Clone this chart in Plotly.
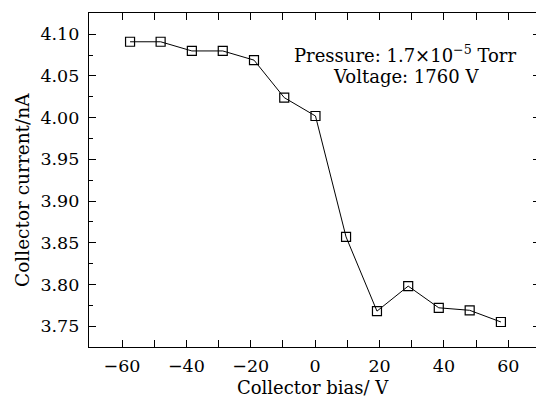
import plotly.graph_objects as go

bias_v = [-57.5, -48.0, -38.3, -28.7, -19.0, -9.6, 0.1, 9.6, 19.2, 28.9, 38.4, 48.0, 57.7]
current_na = [4.091, 4.091, 4.080, 4.080, 4.069, 4.024, 4.002, 3.857, 3.768, 3.798, 3.772, 3.769, 3.755]

x_ticks = [-60, -40, -20, 0, 20, 40, 60]
y_ticks = [3.75, 3.80, 3.85, 3.90, 3.95, 4.00, 4.05, 4.10]

FONT = "DejaVu Serif"
xr = [-70.25, 68.6]
yr = [3.725, 4.1255]

fig = go.Figure()
fig.add_trace(go.Scatter(
    x=bias_v, y=current_na, mode="lines+markers",
    line=dict(color="black", width=1),
    marker=dict(symbol="square-open", size=9, color="black", line=dict(width=1.2)),
    showlegend=False, hoverinfo="skip",
))
fig.add_trace(go.Scatter(
    x=bias_v, y=current_na, mode="markers", yaxis="y2",
    marker=dict(opacity=0), showlegend=False, hoverinfo="skip",
))

fig.update_layout(
    width=536, height=399,
    margin=dict(l=89, r=0, t=13, b=52),
    paper_bgcolor="white", plot_bgcolor="white",
    font=dict(family=FONT, size=17.5, color="black"),
    xaxis=dict(
        range=xr, tickvals=x_ticks, ticktext=["\u2212" + str(-v) if v < 0 else str(v) for v in x_ticks],
        ticks="inside", ticklen=7, tickwidth=1, tickcolor="black",
        showline=True, linecolor="black", linewidth=1.2, mirror="allticks",
        showgrid=False, zeroline=False, ticklabelstandoff=3,
        minor=dict(dtick=10, tick0=0, ticks="inside", ticklen=4, tickwidth=1, tickcolor="black"),
        tickfont=dict(family=FONT, size=17.5),
    ),
    yaxis=dict(
        range=yr, tickvals=y_ticks, ticktext=[f"{v:.2f}" for v in y_ticks],
        ticks="inside", ticklen=7, tickwidth=1, tickcolor="black",
        showline=True, linecolor="black", linewidth=1.2, mirror=False,
        showgrid=False, zeroline=False, ticklabelstandoff=5,
        minor=dict(dtick=0.025, tick0=3.75, ticks="inside", ticklen=4, tickwidth=1, tickcolor="black"),
        tickfont=dict(family=FONT, size=17.5),
    ),
    yaxis2=dict(
        range=yr, tickvals=y_ticks, overlaying="y", side="right", anchor="x",
        ticks="inside", ticklen=3, tickwidth=1, tickcolor="black",
        showline=False, showticklabels=False, showgrid=False, zeroline=False,
    ),
    annotations=[
        dict(text="Collector bias/ V", x=0.5, y=-0.122, xref="paper", yref="paper",
             xanchor="center", yanchor="middle", showarrow=False, font=dict(size=18)),
        dict(text="Collector current/nA", x=-0.15, y=0.47, xref="paper", yref="paper",
             xanchor="center", yanchor="middle", textangle=-90, showarrow=False, font=dict(size=18.5)),
        dict(text="Pressure: 1.7\u00d710<sup>\u22125</sup> Torr", x=0.708, y=0.876, xref="paper", yref="paper",
             xanchor="center", yanchor="middle", showarrow=False, font=dict(size=18)),
        dict(text="Voltage: 1760 V", x=0.710, y=0.811, xref="paper", yref="paper",
             xanchor="center", yanchor="middle", showarrow=False, font=dict(size=18)),
    ],
)

fig.write_html("out.html")
